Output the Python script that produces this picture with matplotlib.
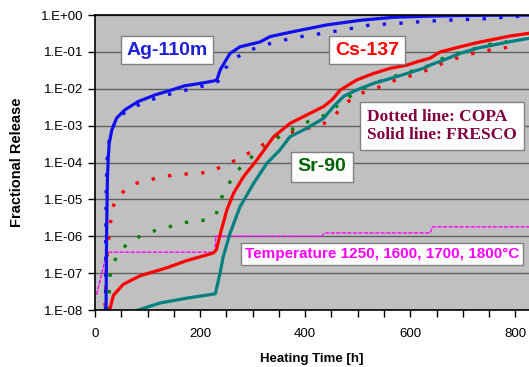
import numpy as np
import matplotlib
matplotlib.use("Agg")
import matplotlib.pyplot as plt
from matplotlib.ticker import FixedLocator, MultipleLocator, FuncFormatter

plt.rcParams["font.family"] = ["Liberation Sans", "DejaVu Sans"]

# Ag-110m
ag_fresco_h = [21, 22, 23.5, 25, 27, 32, 41, 57, 82, 114, 146, 170, 200, 225, 232, 238, 248,
               257, 276, 314, 333, 377, 441, 505, 568, 632, 695, 760, 826]
ag_fresco = [1e-8, 1e-6, 3e-5, 1.2e-4, 3.3e-4, 7.6e-4, 1.6e-3, 2.7e-3, 4.5e-3, 6.8e-3,
             9.3e-3, 1.2e-2, 1.4e-2, 1.62e-2, 1.74e-2, 3.2e-2, 5.6e-2, 9.1e-2, 0.138, 0.186,
             0.26, 0.355, 0.54, 0.72, 0.87, 0.93, 0.97, 0.99, 1.0]
ag_copa_h = [20, 20.5, 21.5, 23, 26, 31, 40, 60, 90, 125, 160, 190, 213, 234, 248, 267, 289,
             311, 346, 384, 434, 479, 524, 575, 619, 663, 708, 758, 784, 826]
ag_copa = [1e-8, 1e-6, 3e-5, 1.2e-4, 3.3e-4, 7e-4, 1.45e-3, 2.5e-3, 4.1e-3, 6.2e-3, 8.3e-3,
           1.05e-2, 1.26e-2, 1.58e-2, 3.6e-2, 6.8e-2, 0.102, 0.138, 0.19, 0.25, 0.32, 0.41,
           0.54, 0.59, 0.66, 0.72, 0.76, 0.81, 0.89, 0.95]

# Cs-137
cs_fresco_h = [28, 35, 54, 86, 137, 175, 225, 231, 238, 251, 264, 283, 308, 340, 371, 403,
               435, 451, 467, 498, 530, 562, 594, 613, 638, 657, 695, 727, 759, 790, 826]
cs_fresco = [1e-8, 2.5e-8, 5e-8, 8.5e-8, 1.4e-7, 2.2e-7, 3.5e-7, 4.3e-7, 1.1e-6, 5.2e-6,
             1.5e-5, 4.2e-5, 1.17e-4, 5e-4, 1.15e-3, 1.95e-3, 3.3e-3, 5e-3, 9.3e-3, 1.74e-2,
             2.6e-2, 3.6e-2, 4.4e-2, 5.4e-2, 6.8e-2, 0.1, 0.138, 0.178, 0.22, 0.27, 0.32]
cs_copa_h = [19, 21, 23, 27, 32, 38, 57, 79, 103, 127, 149, 175, 197, 221, 244, 269, 292,
             314, 352, 384, 410, 432, 454, 473, 498, 524, 552, 575, 594, 616, 638, 663, 689,
             708, 733, 759, 784, 803]
cs_copa = [1.26e-8, 6.6e-8, 2.8e-7, 1.1e-6, 4.7e-6, 9.1e-6, 1.8e-5, 2.75e-5, 3.4e-5, 4e-5,
           4.6e-5, 4.9e-5, 5.1e-5, 5.6e-5, 8.3e-5, 1.17e-4, 1.78e-4, 2.7e-4, 6.2e-4, 6.9e-4,
           8.9e-4, 1.05e-3, 1.74e-3, 3.6e-3, 6.8e-3, 9.3e-3, 1.26e-2, 1.82e-2, 2.1e-2,
           2.6e-2, 3.5e-2, 5e-2, 6.8e-2, 8.3e-2, 0.102, 0.117, 0.132, 0.145]

# Sr-90
sr_fresco_h = [82, 124, 175, 229, 238, 244, 257, 276, 302, 327, 352, 371, 403, 435, 454,
               473, 498, 530, 562, 594, 625, 638, 663, 695, 727, 759, 790, 826]
sr_fresco = [1e-8, 1.55e-8, 2.1e-8, 2.75e-8, 1e-7, 2.8e-7, 1.2e-6, 6.3e-6, 2.75e-5, 9.5e-5,
             2.2e-4, 5e-4, 8.5e-4, 1.58e-3, 3.3e-3, 6.2e-3, 9.3e-3, 1.4e-2, 1.9e-2, 2.6e-2,
             3.6e-2, 4.4e-2, 6e-2, 9.1e-2, 0.126, 0.155, 0.19, 0.234]
sr_copa_h = [25, 27, 29, 36, 49, 71, 95, 118, 141, 162, 187, 213, 230, 238, 244, 257, 273,
             292, 314, 359, 384, 406, 432, 454, 476, 498, 524, 549, 571, 594, 616, 638, 663,
             689, 714, 733, 759, 784]
sr_copa = [1e-8, 2.6e-8, 1e-7, 2e-7, 4.3e-7, 7.9e-7, 1.15e-6, 1.48e-6, 1.8e-6, 2.2e-6,
           2.6e-6, 2.75e-6, 3.8e-6, 7.9e-6, 1.5e-5, 3e-5, 6.3e-5, 1.23e-4, 2e-4, 6.2e-4,
           9.1e-4, 1.29e-3, 1.74e-3, 2.95e-3, 5e-3, 8.3e-3, 1.26e-2, 1.74e-2, 2.2e-2, 2.75e-2,
           3.4e-2, 4.4e-2, 6.8e-2, 9.1e-2, 0.112, 0.138, 0.17, 0.19]

# heating temperature profile (scaled onto the release axis)
temp_h = [3, 13, 19, 25, 228, 230, 432, 436, 638, 642, 826]
temp_level = [2.6e-8, 1e-7, 2.3e-7, 3.7e-7, 3.7e-7, 1.0e-6, 1.0e-6, 1.23e-6, 1.23e-6,
              1.8e-6, 1.8e-6]

y_ticks = [1e-8, 1e-7, 1e-6, 1e-5, 1e-4, 1e-3, 1e-2, 1e-1, 1e0]

fig = plt.figure(figsize=(5.29, 3.67), dpi=100)
ax = fig.add_axes([0.1796, 0.1553, 0.8204, 0.8037])
ax.set_facecolor("#c0c0c0")

dots = dict(linestyle=(0, (1, 4)), linewidth=2.4, dash_capstyle="butt")
ax.plot(temp_h, temp_level, color="#ff00ff", linewidth=1.0, linestyle=(0, (3, 1)))
ax.plot(ag_copa_h, ag_copa, color="#1010ee", **dots)
ax.plot(cs_copa_h, cs_copa, color="#ff0000", **dots)
ax.plot(sr_copa_h, sr_copa, color="#008000", **dots)
ax.plot(ag_fresco_h, ag_fresco, color="#1010ee", linewidth=2.3)
ax.plot(cs_fresco_h, cs_fresco, color="#ff0000", linewidth=2.3)
ax.plot(sr_fresco_h, sr_fresco, color="#008080", linewidth=2.3)

ax.set_yscale("log")
ax.set_ylim(1e-8, 1.0)
ax.set_xlim(0, 826)
ax.yaxis.set_major_locator(FixedLocator(y_ticks))
ax.yaxis.set_minor_locator(FixedLocator([]))
ax.yaxis.set_major_formatter(FuncFormatter(lambda v, p: f"1.E{int(round(np.log10(v))):+03d}"))
ax.xaxis.set_major_locator(MultipleLocator(200))
ax.xaxis.set_minor_locator(MultipleLocator(50))
ax.tick_params(axis="both", which="both", direction="out", length=5, width=1, labelsize=9.5)
ax.tick_params(axis="x", pad=8)
ax.grid(axis="y", color="#606060", linewidth=1)
ax.set_axisbelow(True)
for s in ["top", "left", "bottom"]:
    ax.spines[s].set_linewidth(1.2)
ax.spines["right"].set_visible(False)

ax.set_ylabel("Fractional Release", fontsize=10.5, fontweight="bold", labelpad=12)
ax.set_xlabel("Heating Time [h]", fontsize=9.5, fontweight="bold", labelpad=9)

box = dict(boxstyle="square,pad=0.3", facecolor="white", edgecolor="#808080", linewidth=1)
ax.text(137, 0.112, "Ag-110m", color="#2020d8", fontsize=14, fontweight="bold",
        ha="center", va="center", bbox=box)
ax.text(518, 0.112, "Cs-137", color="#ff0000", fontsize=14, fontweight="bold",
        ha="center", va="center", bbox=box)
ax.text(432, 7.6e-5, "Sr-90", color="#006400", fontsize=14, fontweight="bold",
        ha="center", va="center", bbox=dict(boxstyle="square,pad=0.35", facecolor="white",
                                            edgecolor="#808080", linewidth=1))
ax.text(518, 9.8e-4, "Dotted line: COPA\nSolid line: FRESCO", color="#800040",
        fontsize=12.5, fontweight="bold", family=["Liberation Serif", "DejaVu Serif"],
        ha="left", va="center", linespacing=1.15,
        bbox=dict(boxstyle="square,pad=0.4", facecolor="white", edgecolor="#808080",
                  linewidth=1))
ax.text(547, 3.3e-7, "Temperature 1250, 1600, 1700, 1800\u00b0C", color="#ff00ff",
        fontsize=11, fontweight="bold", ha="center", va="center",
        bbox=dict(boxstyle="square,pad=0.25", facecolor="white", edgecolor="#808080",
                  linewidth=1))

fig.savefig("out.png", dpi=100)
